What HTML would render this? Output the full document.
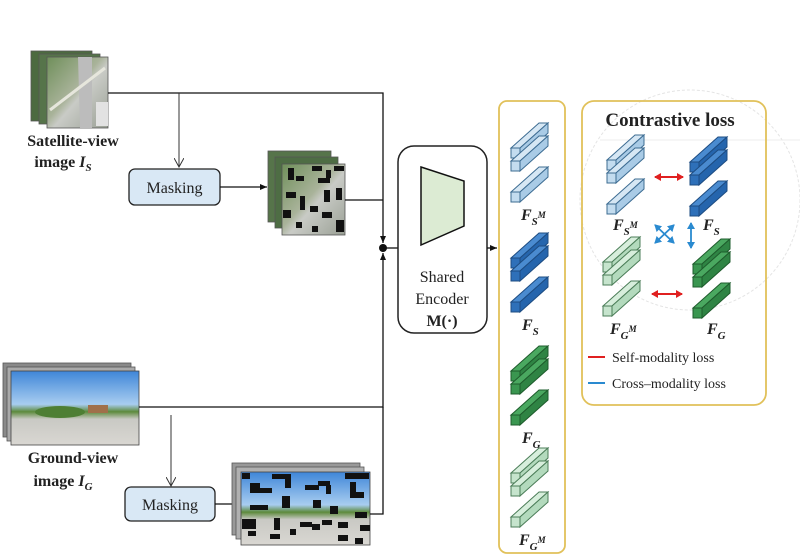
<!DOCTYPE html>
<html><head><meta charset="utf-8"><style>
html,body{margin:0;padding:0;background:#fff}
svg{display:block}
text{font-family:"Liberation Serif",serif;fill:#222}
</style></head><body>
<svg width="800" height="556" viewBox="0 0 800 556" xmlns="http://www.w3.org/2000/svg">
<defs>
<marker id="ah" markerWidth="8" markerHeight="8" refX="7" refY="4" orient="auto" markerUnits="userSpaceOnUse"><path d="M0,1 L7,4 L0,7 z" fill="#111"/></marker>
<marker id="ahg" markerWidth="10" markerHeight="10" refX="9" refY="5" orient="auto" markerUnits="userSpaceOnUse"><path d="M0,0 L9,5 L0,10" fill="none" stroke="#333"/></marker>
<marker id="ar" markerWidth="8" markerHeight="8" refX="6" refY="4" orient="auto-start-reverse" markerUnits="userSpaceOnUse"><path d="M0,0 L7,4 L0,8 z" fill="#e02020"/></marker>
<marker id="ab" markerWidth="8" markerHeight="8" refX="6" refY="4" orient="auto-start-reverse" markerUnits="userSpaceOnUse"><path d="M0,0 L7,4 L0,8 z" fill="#2a8ad0"/></marker>
<g id="barLB"><path d="M0,0 L28,-25 L37,-25 L9,0 z" fill="#d6e7f4" stroke="#3d6c92" stroke-width="1"/><path d="M9,0 L37,-25 L37,-15 L9,10 z" fill="#a9cbe6" stroke="#3d6c92" stroke-width="1"/><rect x="0" y="0" width="9" height="10" fill="#c3dcef" stroke="#3d6c92" stroke-width="1"/></g>
<g id="barDB"><path d="M0,0 L28,-25 L37,-25 L9,0 z" fill="#4a8bd0" stroke="#1d4c82" stroke-width="1"/><path d="M9,0 L37,-25 L37,-15 L9,10 z" fill="#2565ad" stroke="#1d4c82" stroke-width="1"/><rect x="0" y="0" width="9" height="10" fill="#2e70b9" stroke="#1d4c82" stroke-width="1"/></g>
<g id="barDG"><path d="M0,0 L28,-25 L37,-25 L9,0 z" fill="#4aa860" stroke="#1e5c2c" stroke-width="1"/><path d="M9,0 L37,-25 L37,-15 L9,10 z" fill="#2f8444" stroke="#1e5c2c" stroke-width="1"/><rect x="0" y="0" width="9" height="10" fill="#3a9650" stroke="#1e5c2c" stroke-width="1"/></g>
<g id="barLG"><path d="M0,0 L28,-25 L37,-25 L9,0 z" fill="#d7eedc" stroke="#4b7d58" stroke-width="1"/><path d="M9,0 L37,-25 L37,-15 L9,10 z" fill="#b3dabd" stroke="#4b7d58" stroke-width="1"/><rect x="0" y="0" width="9" height="10" fill="#c6e4cd" stroke="#4b7d58" stroke-width="1"/></g>
<g id="gLB"><use href="#barLB"/><use href="#barLB" y="13"/><text x="15" y="33" font-size="8" fill="#888">⋮</text><use href="#barLB" y="44"/></g>
<g id="gDB"><use href="#barDB"/><use href="#barDB" y="13"/><text x="15" y="33" font-size="8" fill="#888">⋮</text><use href="#barDB" y="44"/></g>
<g id="gDG"><use href="#barDG"/><use href="#barDG" y="13"/><text x="15" y="33" font-size="8" fill="#888">⋮</text><use href="#barDG" y="44"/></g>
<g id="gLG"><use href="#barLG"/><use href="#barLG" y="13"/><text x="15" y="33" font-size="8" fill="#888">⋮</text><use href="#barLG" y="44"/></g>
<linearGradient id="sky" x1="0" y1="0" x2="0" y2="1"><stop offset="0" stop-color="#3f86d8"/><stop offset="0.45" stop-color="#a8cdf0"/><stop offset="0.55" stop-color="#5d8a3c"/><stop offset="0.65" stop-color="#c9c9c4"/><stop offset="1" stop-color="#d9d7d2"/></linearGradient>
<linearGradient id="sat" x1="0" y1="0" x2="1" y2="1"><stop offset="0" stop-color="#6f8f5a"/><stop offset="0.45" stop-color="#a9b39a"/><stop offset="0.55" stop-color="#c9cbc6"/><stop offset="1" stop-color="#9aa095"/></linearGradient>
</defs>

<circle cx="690" cy="200" r="110" fill="none" stroke="#e4e4e4" stroke-width="1" stroke-dasharray="3,2"/>
<line x1="600" y1="140" x2="800" y2="140" stroke="#ececec"/>

<!-- Satellite stack -->
<rect x="31" y="51" width="61" height="70" fill="#4c6a40" stroke="#555" stroke-width="0.8"/>
<rect x="39" y="54" width="61" height="70" fill="#56744a" stroke="#555" stroke-width="0.8"/>
<rect x="47" y="57" width="61" height="71" fill="url(#sat)" stroke="#555" stroke-width="0.8"/>
<path d="M78,57 L92,57 L92,128 L80,128 z" fill="#bcbcbc"/>
<path d="M50,110 L105,68" stroke="#e6e6dc" stroke-width="3"/>
<rect x="96" y="102" width="12" height="24" fill="#e2e2e2"/>
<text x="73" y="146" font-size="16" text-anchor="middle" font-weight="bold">Satellite-view</text>
<text x="63" y="167" font-size="16" text-anchor="middle" font-weight="bold">image <tspan font-style="italic">I</tspan><tspan font-style="italic" font-size="11" dy="4">S</tspan></text>

<polyline points="108,93 383,93 383,243" fill="none" stroke="#111" stroke-width="1.3" marker-end="url(#ah)"/>
<line x1="179" y1="93" x2="179" y2="167" stroke="#333" stroke-width="1" marker-end="url(#ahg)"/>
<rect x="129" y="169" width="91" height="36" rx="6" fill="#d9e8f5" stroke="#222" stroke-width="1.3"/>
<text x="174.5" y="193" font-size="16" text-anchor="middle">Masking</text>
<line x1="220" y1="187" x2="267" y2="187" stroke="#111" stroke-width="1.3" marker-end="url(#ah)"/>
<rect x="268" y="151" width="63" height="71" fill="#56744a" stroke="#555" stroke-width="0.8"/>
<rect x="275" y="157" width="63" height="71" fill="#4e6d44" stroke="#555" stroke-width="0.8"/>
<rect x="282" y="164" width="63" height="71" fill="url(#sat)" stroke="#555" stroke-width="0.8"/>
<g fill="#111">
<rect x="288" y="168" width="6" height="12"/><rect x="296" y="176" width="8" height="5"/><rect x="312" y="166" width="10" height="5"/><rect x="334" y="166" width="10" height="5"/>
<rect x="318" y="178" width="12" height="5"/><rect x="324" y="190" width="6" height="12"/><rect x="336" y="188" width="6" height="12"/><rect x="286" y="192" width="10" height="6"/>
<rect x="300" y="196" width="5" height="14"/><rect x="283" y="210" width="8" height="8"/><rect x="310" y="206" width="8" height="6"/><rect x="322" y="212" width="10" height="6"/>
<rect x="296" y="222" width="6" height="6"/><rect x="336" y="220" width="8" height="12"/><rect x="312" y="226" width="6" height="6"/><rect x="326" y="170" width="5" height="8"/>
</g>
<line x1="345" y1="200" x2="383" y2="200" stroke="#111" stroke-width="1.3"/>

<!-- Ground stack -->
<rect x="3" y="363" width="128" height="74" fill="#8a8a8a" stroke="#555" stroke-width="0.8"/>
<rect x="7" y="367" width="128" height="74" fill="#aaa" stroke="#555" stroke-width="0.8"/>
<rect x="11" y="371" width="128" height="74" fill="url(#sky)" stroke="#444" stroke-width="0.8"/>
<ellipse cx="60" cy="412" rx="25" ry="6" fill="#4e7f34"/>
<rect x="88" y="405" width="20" height="8" fill="#a0704a"/>
<text x="73" y="463" font-size="16" text-anchor="middle" font-weight="bold">Ground-view</text>
<text x="63" y="486" font-size="16" text-anchor="middle" font-weight="bold">image <tspan font-style="italic">I</tspan><tspan font-style="italic" font-size="11" dy="4">G</tspan></text>
<polyline points="139,407 383,407 383,253" fill="none" stroke="#111" stroke-width="1.3" marker-end="url(#ah)"/>
<line x1="171" y1="415" x2="171" y2="486" stroke="#333" stroke-width="1" marker-end="url(#ahg)"/>
<rect x="125" y="487" width="90" height="34" rx="6" fill="#d9e8f5" stroke="#222" stroke-width="1.3"/>
<text x="170" y="510" font-size="16" text-anchor="middle">Masking</text>
<line x1="215" y1="504" x2="240" y2="504" stroke="#111" stroke-width="1.3" marker-end="url(#ah)"/>
<rect x="232" y="463" width="128" height="72" fill="#999" stroke="#555" stroke-width="0.8"/>
<rect x="236" y="467" width="128" height="72" fill="#b0b0b0" stroke="#555" stroke-width="0.8"/>
<rect x="241" y="472" width="129" height="73" fill="url(#sky)" stroke="#444" stroke-width="0.8"/>
<g fill="#111">
<rect x="242" y="473" width="8" height="6"/><rect x="272" y="474" width="18" height="5"/><rect x="285" y="474" width="6" height="14"/><rect x="345" y="473" width="24" height="6"/>
<rect x="250" y="483" width="10" height="10"/><rect x="256" y="488" width="16" height="5"/><rect x="305" y="485" width="14" height="5"/><rect x="318" y="481" width="12" height="5"/><rect x="326" y="485" width="5" height="9"/>
<rect x="350" y="482" width="6" height="16"/><rect x="350" y="492" width="14" height="6"/><rect x="250" y="505" width="18" height="5"/><rect x="282" y="496" width="8" height="12"/><rect x="313" y="500" width="8" height="8"/>
<rect x="242" y="519" width="14" height="10"/><rect x="274" y="518" width="6" height="12"/><rect x="300" y="522" width="12" height="5"/><rect x="312" y="524" width="8" height="6"/><rect x="322" y="520" width="10" height="5"/>
<rect x="330" y="506" width="8" height="8"/><rect x="338" y="522" width="10" height="6"/><rect x="355" y="512" width="12" height="6"/><rect x="360" y="525" width="10" height="6"/>
<rect x="248" y="531" width="8" height="5"/><rect x="270" y="534" width="10" height="5"/><rect x="290" y="529" width="6" height="6"/><rect x="338" y="535" width="10" height="6"/><rect x="355" y="538" width="8" height="6"/>
</g>
<polyline points="370,514 383,514 383,407" fill="none" stroke="#111" stroke-width="1.3"/>

<circle cx="383" cy="248" r="4" fill="#111"/>
<line x1="383" y1="248" x2="398" y2="248" stroke="#111" stroke-width="1.3"/>

<!-- Encoder -->
<rect x="398" y="146" width="89" height="187" rx="16" fill="#fff" stroke="#222" stroke-width="1.5"/>
<path d="M421,167 L464,181 L464,226 L421,245 z" fill="#dcebd3" stroke="#111" stroke-width="1.5"/>
<text x="442" y="282" font-size="16" text-anchor="middle">Shared</text>
<text x="442" y="304" font-size="16" text-anchor="middle">Encoder</text>
<text x="442" y="326" font-size="16" text-anchor="middle" font-weight="bold">M(·)</text>
<line x1="487" y1="248" x2="497" y2="248" stroke="#111" stroke-width="1.3" marker-end="url(#ah)"/>

<!-- Feature column -->
<rect x="499" y="101" width="66" height="452" rx="8" fill="#fff" stroke="#e1c15a" stroke-width="1.8"/>
<use href="#gLB" x="511" y="148"/>
<text x="521" y="220" font-size="16" font-weight="bold" font-style="italic">F<tspan font-size="11" dy="5">S</tspan><tspan font-size="9" dy="-7">M</tspan></text>
<use href="#gDB" x="511" y="258"/>
<text x="522" y="330" font-size="16" font-weight="bold" font-style="italic">F<tspan font-size="11" dy="5">S</tspan></text>
<use href="#gDG" x="511" y="371"/>
<text x="522" y="443" font-size="16" font-weight="bold" font-style="italic">F<tspan font-size="11" dy="5">G</tspan></text>
<use href="#gLG" x="511" y="473"/>
<text x="519" y="545" font-size="16" font-weight="bold" font-style="italic">F<tspan font-size="11" dy="5">G</tspan><tspan font-size="9" dy="-7">M</tspan></text>

<!-- Contrastive box -->
<rect x="582" y="101" width="184" height="304" rx="12" fill="none" stroke="#e1c15a" stroke-width="1.8"/>
<text x="670" y="126" font-size="19" font-weight="bold" text-anchor="middle">Contrastive loss</text>
<use href="#gLB" x="607" y="160"/>
<use href="#gDB" x="690" y="162"/>
<text x="613" y="230" font-size="16" font-weight="bold" font-style="italic">F<tspan font-size="11" dy="5">S</tspan><tspan font-size="9" dy="-7">M</tspan></text>
<text x="703" y="230" font-size="16" font-weight="bold" font-style="italic">F<tspan font-size="11" dy="5">S</tspan></text>
<line x1="655" y1="177" x2="683" y2="177" stroke="#e02020" stroke-width="2" marker-start="url(#ar)" marker-end="url(#ar)"/>
<line x1="655" y1="225" x2="674" y2="243" stroke="#2a8ad0" stroke-width="1.8" marker-start="url(#ab)" marker-end="url(#ab)"/>
<line x1="674" y1="225" x2="655" y2="243" stroke="#2a8ad0" stroke-width="1.8" marker-start="url(#ab)" marker-end="url(#ab)"/>
<line x1="691" y1="223" x2="691" y2="248" stroke="#2a8ad0" stroke-width="1.8" marker-start="url(#ab)" marker-end="url(#ab)"/>
<use href="#gLG" x="603" y="262"/>
<use href="#gDG" x="693" y="264"/>
<line x1="652" y1="294" x2="682" y2="294" stroke="#e02020" stroke-width="2" marker-start="url(#ar)" marker-end="url(#ar)"/>
<text x="610" y="334" font-size="16" font-weight="bold" font-style="italic">F<tspan font-size="11" dy="5">G</tspan><tspan font-size="9" dy="-7">M</tspan></text>
<text x="707" y="334" font-size="16" font-weight="bold" font-style="italic">F<tspan font-size="11" dy="5">G</tspan></text>
<line x1="588" y1="357" x2="605" y2="357" stroke="#e02020" stroke-width="2"/>
<text x="612" y="362" font-size="14">Self-modality loss</text>
<line x1="588" y1="383" x2="605" y2="383" stroke="#2a8ad0" stroke-width="2"/>
<text x="612" y="388" font-size="14">Cross–modality loss</text>
</svg>
</body></html>
